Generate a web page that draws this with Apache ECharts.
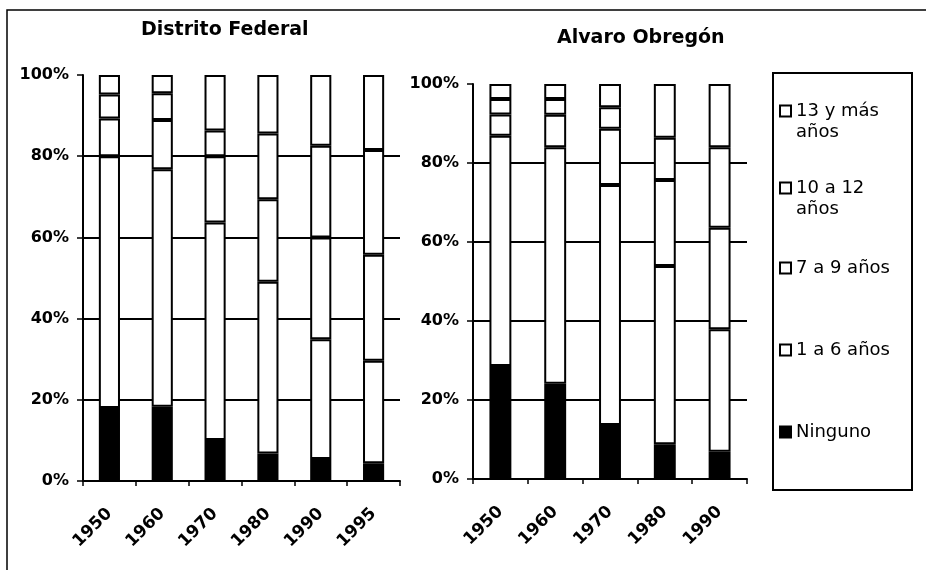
<!DOCTYPE html>
<html>
<head>
<meta charset="utf-8">
<script src="https://cdn.jsdelivr.net/npm/echarts@6/dist/echarts.min.js"></script>
<style>
  html, body { margin: 0; background: #fff; }
  #chart { width: 926px; height: 570px; }
</style>
</head>
<body>
<div id="chart"></div>
<script>
// categories
const dfYears = ['1950', '1960', '1970', '1980', '1990', '1995']
const aoYears = ['1950', '1960', '1970', '1980', '1990']
// levels, bottom of stack first
const levels = ['Ninguno', '1 a 6 años', '7 a 9 años', '10 a 12\naños', '13 y más\naños']
const levelColors = ['#000', '#fff', '#fff', '#fff', '#fff']

// Distrito Federal (% of population)
const dfNinguno = [18.0, 18.3, 10.1, 6.8, 5.4, 4.4]
const df1a6 = [62.0, 58.5, 53.6, 42.3, 29.5, 25.2]
const df7a9 = [9.3, 12.1, 16.3, 20.3, 25.1, 26.1]
const df10a12 = [5.9, 6.6, 6.3, 16.2, 22.6, 25.8]
const df13mas = [4.8, 4.5, 13.7, 14.4, 17.4, 18.5]

// Alvaro Obregón (% of population)
const aoNinguno = [28.6, 24.1, 13.7, 8.8, 6.9]
const ao1a6 = [58.3, 59.9, 60.7, 45.1, 31.0]
const ao7a9 = [5.4, 8.2, 14.3, 21.8, 25.7]
const ao10a12 = [3.9, 4.0, 5.4, 10.7, 20.4]
const ao13mas = [3.8, 3.8, 5.9, 13.6, 16.0]

const dfSeries = [dfNinguno, df1a6, df7a9, df10a12, df13mas]
const aoSeries = [aoNinguno, ao1a6, ao7a9, ao10a12, ao13mas]

const font = 'DejaVu Sans'
const black = '#000'

const xAxisFor = (idx, data) => ({
  type: 'category',
  gridIndex: idx,
  data: data,
  axisLine: { lineStyle: { color: black, width: 2 } },
  axisTick: { show: true, length: 5, lineStyle: { color: black, width: 1.5 } },
  axisLabel: {
    rotate: 45,
    margin: 30,
    color: black,
    fontFamily: font,
    fontWeight: 'bold',
    fontSize: 17
  }
})

const yAxisFor = (idx) => ({
  type: 'value',
  gridIndex: idx,
  min: 0,
  max: 100,
  interval: 20,
  axisLine: { show: true, lineStyle: { color: black, width: 2 } },
  axisTick: { show: true, length: 6, lineStyle: { color: black, width: 1.5 } },
  axisLabel: {
    formatter: '{value}%',
    margin: 14,
    color: black,
    fontFamily: font,
    fontWeight: 'bold',
    fontSize: 16
  },
  splitLine: { show: true, showMaxLine: false, lineStyle: { color: black, width: 2 } }
})

const barsFor = (idx, stack, values) => values.map((vals, i) => ({
  name: levels[i],
  type: 'bar',
  stack: stack,
  xAxisIndex: idx,
  yAxisIndex: idx,
  barWidth: '40%',
  data: vals,
  itemStyle: { color: levelColors[i], borderColor: black, borderWidth: 2 }
}))

// one legend block per level, top to bottom
const legendOrder = [4, 3, 2, 1, 0]
const legendTops = [79.5, 156.5, 257.5, 339.5, 421.5]

const chart = echarts.init(document.getElementById('chart'))

chart.setOption({
  animation: false,
  title: [
    {
      text: 'Distrito Federal',
      left: 141, top: 21, padding: 0,
      textStyle: { fontFamily: font, fontWeight: 'bold', fontSize: 19, color: black }
    },
    {
      text: 'Alvaro Obregón',
      left: 557, top: 29, padding: 0,
      textStyle: { fontFamily: font, fontWeight: 'bold', fontSize: 19, color: black }
    }
  ],
  legend: legendOrder.map((li, k) => ({
    data: [levels[li]],
    left: 779,
    top: legendTops[k],
    padding: 0,
    icon: 'rect',
    itemWidth: 11,
    itemHeight: 11,
    itemGap: 0,
    selectedMode: false,
    // two-line names: blank line on top so the first line sits level with the box
    formatter: (name) => name.includes('\n') ? ' \n' + name : name,
    textStyle: {
      fontFamily: font,
      fontSize: 18,
      lineHeight: 21,
      color: black
    }
  })),
  grid: [
    { left: 83, top: 75, width: 317, height: 406 },
    { left: 473, top: 84, width: 274, height: 395 }
  ],
  xAxis: [xAxisFor(0, dfYears), xAxisFor(1, aoYears)],
  yAxis: [yAxisFor(0), yAxisFor(1)],
  series: [...barsFor(0, 'df', dfSeries), ...barsFor(1, 'ao', aoSeries)],
  graphic: [
    {
      type: 'rect',
      shape: { x: 7, y: 10, width: 1000, height: 1000 },
      style: { fill: 'none', stroke: black, lineWidth: 1.5 },
      silent: true
    },
    {
      type: 'rect',
      shape: { x: 773, y: 73, width: 139, height: 417 },
      style: { fill: 'none', stroke: black, lineWidth: 2 },
      silent: true
    }
  ]
})
</script>
</body>
</html>
